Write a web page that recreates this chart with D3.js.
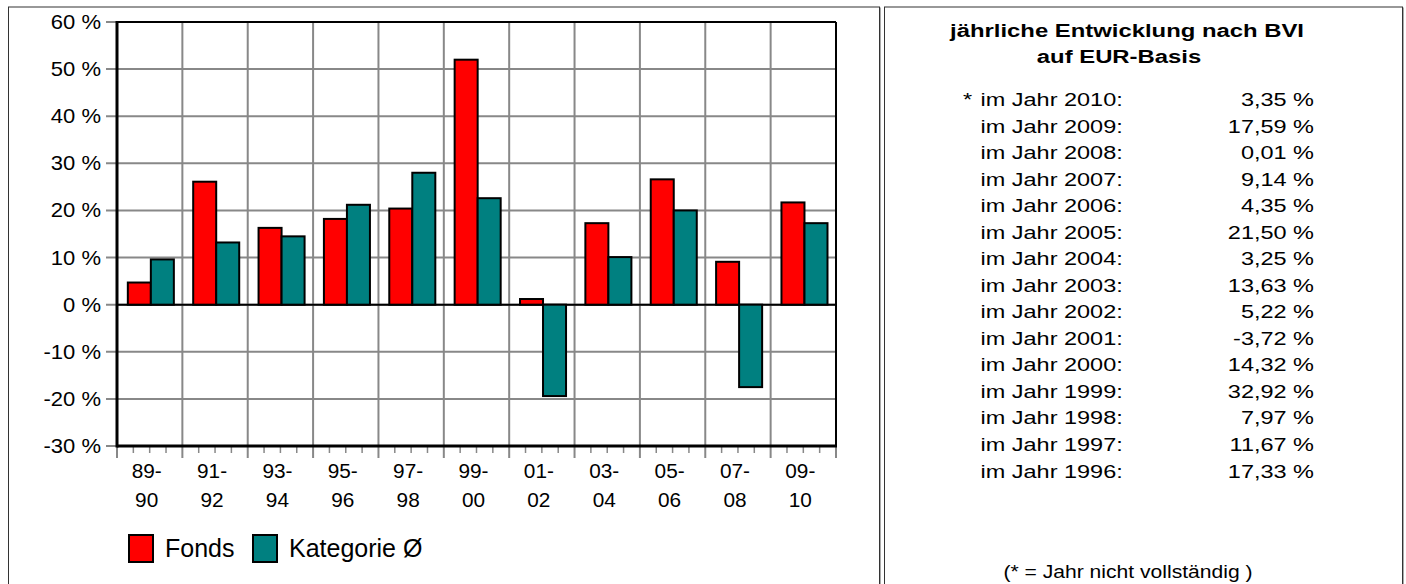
<!DOCTYPE html>
<html>
<head>
<meta charset="utf-8">
<title>Fonds vs Kategorie</title>
<script src="https://d3js.org/d3.v7.min.js"></script>
<style>
  body { margin: 0; background: #fff; }
  text { font-family: "Liberation Sans", Arial, sans-serif; fill: #000; }
</style>
</head>
<body>
<svg id="chart" width="1406" height="584"></svg>
<script>
  // data
  const periods = ["89-90", "91-92", "93-94", "95-96", "97-98", "99-00", "01-02", "03-04", "05-06", "07-08", "09-10"];
  const fonds = [4.7, 26.1, 16.3, 18.2, 20.4, 52.0, 1.2, 17.3, 26.6, 9.1, 21.7];
  const kategorie = [9.6, 13.2, 14.5, 21.2, 28.0, 22.6, -19.4, 10.1, 20.0, -17.5, 17.3];
  const yTicks = [-30, -20, -10, 0, 10, 20, 30, 40, 50, 60];
  const seriesNames = ["Fonds", "Kategorie Ø"];
  const seriesColors = ["#ff0000", "#008080"];

  const bviYears = [2010, 2009, 2008, 2007, 2006, 2005, 2004, 2003, 2002, 2001, 2000, 1999, 1998, 1997, 1996];
  const bviValues = [3.35, 17.59, 0.01, 9.14, 4.35, 21.50, 3.25, 13.63, 5.22, -3.72, 14.32, 32.92, 7.97, 11.67, 17.33];
  const titleLines = ["jährliche Entwicklung nach BVI", "auf EUR-Basis"];
  const footnote = "(* = Jahr nicht vollständig )";

  const svg = d3.select("#chart");

  // text helper: the source picture has horizontally widened lettering
  function txt(parent, x, y, s, opts) {
    opts = opts || {};
    return parent.append("text")
      .attr("transform", `translate(${x},${y}) scale(${opts.sx || 1},1)`)
      .attr("text-anchor", opts.anchor || "start")
      .style("font-size", (opts.size || 20) + "px")
      .style("font-weight", opts.bold ? "bold" : "normal")
      .text(s);
  }

  // panels
  function panel(x0, x1) {
    svg.append("rect").attr("x", x0 + 1).attr("y", 8).attr("width", x1 - x0).attr("height", 600)
      .attr("fill", "none").attr("stroke", "#aaa").attr("stroke-width", 1);
    svg.append("rect").attr("x", x0).attr("y", 7).attr("width", x1 - x0).attr("height", 600)
      .attr("fill", "#fff").attr("stroke", "#333").attr("stroke-width", 1);
  }
  panel(8.5, 879.5);
  panel(884.5, 1402.5);

  // ---- left chart ----
  const x0 = d3.scaleBand().domain(periods).range([117, 836]);
  const x1 = d3.scaleBand().domain([0, 1]).range([0, x0.bandwidth()]).paddingOuter(0.42).align(0.56);
  const y = d3.scaleLinear().domain([-30, 60]).range([446, 22]);

  const g = svg.append("g");

  // horizontal grid
  g.selectAll(".hgrid").data(yTicks).enter().append("line")
    .attr("x1", 106).attr("x2", 836)
    .attr("y1", d => y(d)).attr("y2", d => y(d))
    .attr("stroke", "#888").attr("stroke-width", 2);

  // vertical grid + major ticks
  const bounds = periods.map(p => x0(p)).concat([x0.range()[1]]);
  g.selectAll(".vgrid").data(bounds).enter().append("line")
    .attr("x1", d => d).attr("x2", d => d)
    .attr("y1", y(60)).attr("y2", 458)
    .attr("stroke", "#888").attr("stroke-width", 2);

  // minor ticks at quarters of each band
  const minor = [];
  periods.forEach(p => [0.25, 0.5, 0.75].forEach(f => minor.push(x0(p) + f * x0.bandwidth())));
  g.selectAll(".minor").data(minor).enter().append("line")
    .attr("x1", d => d).attr("x2", d => d)
    .attr("y1", 446).attr("y2", 453)
    .attr("stroke", "#888").attr("stroke-width", 1.5);

  // frame lines
  g.append("line").attr("x1", 117).attr("x2", 836).attr("y1", y(60)).attr("y2", y(60))
    .attr("stroke", "#000").attr("stroke-width", 2);
  g.append("line").attr("x1", 836).attr("x2", 836).attr("y1", y(60)).attr("y2", y(-30))
    .attr("stroke", "#000").attr("stroke-width", 2);
  g.append("line").attr("x1", 117).attr("x2", 836).attr("y1", y(0)).attr("y2", y(0))
    .attr("stroke", "#000").attr("stroke-width", 2);

  // bars
  const rows = periods.map((p, i) => ({ p: p, v: [fonds[i], kategorie[i]] }));
  const grp = g.selectAll(".grp").data(rows).enter().append("g")
    .attr("transform", d => `translate(${x0(d.p)},0)`);
  grp.selectAll("rect").data(d => d.v.map((v, k) => ({ k: k, v: v }))).enter().append("rect")
    .attr("x", d => x1(d.k))
    .attr("width", x1.bandwidth())
    .attr("y", d => y(Math.max(0, d.v)))
    .attr("height", d => Math.abs(y(d.v) - y(0)))
    .attr("fill", d => seriesColors[d.k])
    .attr("stroke", "#000").attr("stroke-width", 2);

  // axes
  g.append("line").attr("x1", 117).attr("x2", 117).attr("y1", y(60) - 1).attr("y2", y(-30) + 1.5)
    .attr("stroke", "#000").attr("stroke-width", 3);
  g.append("line").attr("x1", 117).attr("x2", 837).attr("y1", y(-30)).attr("y2", y(-30))
    .attr("stroke", "#000").attr("stroke-width", 3);

  // y labels
  yTicks.forEach(t => txt(g, 101, y(t) + 7, t + " %", { anchor: "end", size: 20, sx: 1.1 }));

  // x labels
  periods.forEach(p => {
    const parts = p.split("-");
    const cx = x0(p) + x0.bandwidth() / 2 - 3;
    txt(g, cx, 478, parts[0] + "-", { anchor: "middle", size: 20, sx: 1.04 });
    txt(g, cx, 507, parts[1], { anchor: "middle", size: 20, sx: 1.04 });
  });

  // legend
  const legX = [129, 253];
  seriesNames.forEach((n, i) => {
    svg.append("rect").attr("x", legX[i]).attr("y", 535).attr("width", 24).attr("height", 27)
      .attr("fill", seriesColors[i]).attr("stroke", "#000").attr("stroke-width", 2);
    txt(svg, legX[i] + 36, 557, n, { size: 25 });
  });

  // ---- right panel ----
  const fmt = d3.formatLocale({ decimal: ",", thousands: ".", grouping: [3], currency: ["", "€"], minus: "-" }).format(".2f");
  const rowY = d3.scalePoint().domain(bviYears).range([106.3, 477.5]);

  txt(svg, 1127, 37, titleLines[0], { anchor: "middle", size: 18.5, bold: true, sx: 1.29 });
  txt(svg, 1119, 63, titleLines[1], { anchor: "middle", size: 18.5, bold: true, sx: 1.29 });

  bviYears.forEach((yr, i) => {
    if (i === 0) txt(svg, 963, rowY(yr), "*", { size: 18.5, sx: 1.27 });
    txt(svg, 980.5, rowY(yr), "im Jahr " + yr + ":", { size: 18.5, sx: 1.27 });
    txt(svg, 1314, rowY(yr), fmt(bviValues[i]) + " %", { anchor: "end", size: 18.5, sx: 1.27 });
  });

  txt(svg, 1128, 578, footnote, { anchor: "middle", size: 18.5, sx: 1.14 });
</script>
</body>
</html>
